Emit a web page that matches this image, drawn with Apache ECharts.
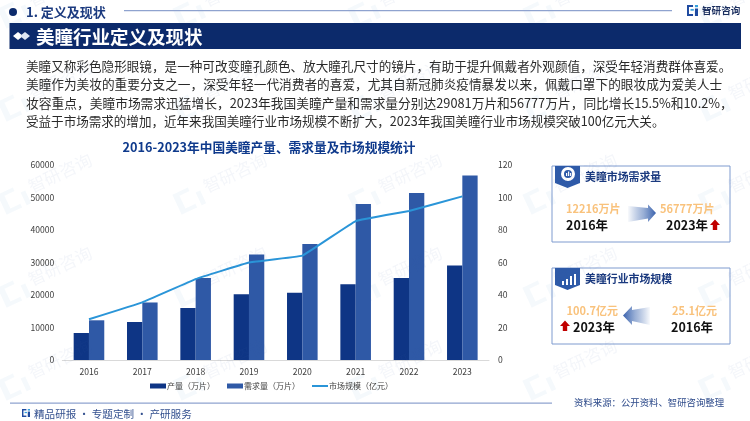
<!DOCTYPE html>
<html><head><meta charset="utf-8">
<style>html,body{margin:0;padding:0;background:#fff}#c{width:750px;height:421px}</style>
<script src="https://cdn.jsdelivr.net/npm/echarts@6/dist/echarts.min.js"></script>
</head><body><div id="c"></div>
<script>
const years=['2016','2017','2018','2019','2020','2021','2022','2023'];
const production=[8300,11700,16000,20200,20700,23300,25200,29081];
const demand=[12216,17700,25200,32500,35700,48000,51400,56777];
const marketSize=[25.1,35.5,49.8,60,64.2,85.5,91.7,100.7];
const seriesNames=['产量\uFF08万片\uFF09','需求量\uFF08万片\uFF09','市场规模\uFF08亿元\uFF09'];
const chartTitle='2016-2023年中国美瞳产量、需求量及市场规模统计';
const bodyLines=[
'美瞳又称彩色隐形眼镜\uFF0C是一种可改变瞳孔颜色、放大瞳孔尺寸的镜片\uFF0C有助于提升佩戴者外观颜值\uFF0C深受年轻消费群体喜爱。',
'美瞳作为美妆的重要分支之一\uFF0C深受年轻一代消费者的喜爱\uFF0C尤其自新冠肺炎疫情暴发以来\uFF0C佩戴口罩下的眼妆成为爱美人士',
'妆容重点\uFF0C美瞳市场需求迅猛增长\uFF0C2023年我国美瞳产量和需求量分别达29081万片和56777万片\uFF0C同比增长15.5%和10.2%\uFF0C',
'受益于市场需求的增加\uFF0C近年来我国美瞳行业市场规模不断扩大\uFF0C2023年我国美瞳行业市场规模突破100亿元大关。'];
const F='"Noto Sans CJK SC","Noto Sans",sans-serif';
const NAVY='#0c2a6b',BLUE='#2e5aa8',ORANGE='#f9c27c',LINE='#2a95d8';
const g=[];
function T(x,y,text,size,color,bold,align,z){g.push({type:'text',x,y,z:z||5,style:{text,font:(bold?'bold ':'')+size+'px '+F,fill:color,textAlign:align||'left',textVerticalAlign:'middle'}});}
function R(x,y,w,h,fill,z){g.push({type:'rect',shape:{x,y,width:w,height:h},style:{fill},z:z||4});}
function P(points,fill,z){g.push({type:'polygon',shape:{points},style:{fill},z:z||4});}
function logo(x,y,s,c1,c2){
  R(x,y,s*.55,s*.18,c1);R(x,y,s*.18,s,c1);R(x,y+s*.82,s*.55,s*.18,c1);
  R(x+s*.32,y+s*.36,s*.3,s*.16,c2);
  R(x+s*.72,y,s*.28,s*.2,c2);R(x+s*.72,y+s*.32,s*.28,s*.68,c1);
}
// header
g.push({type:'circle',shape:{cx:13,cy:12,r:4},style:{fill:NAVY},z:4});
T(26,12,'1. 定义及现状',13,'#1b3a7f',true);
R(124,10,548,1.2,'#8fa3cf');
logo(687,5,11,'#1f4aa0','#36a0dc');
T(702,10.5,'智研咨询',9.6,'#1b2f5f',true);
R(9.5,23,731.5,26,NAVY);
P([[13,36],[18,32],[23,36],[18,40]],'#ffffff');
P([[20,36],[25,32],[30,36],[25,40]],'#dfe6f3');
T(36,36.5,'美瞳行业定义及现状',18.5,'#ffffff',true);
const lineY=[66,84.5,103,121.5];
const lineSize=[12.6,12.67,12.74,12.55];
bodyLines.forEach((s,i)=>T(26,lineY[i],s,lineSize[i],'#2a2a2a',false));
// footer
R(10,402.5,542,1.2,'#8fa3cf');
logo(22,409,8,'#1f4aa0','#36a0dc');
T(34,414,'精品研报 · 专题定制 · 产研服务',10.6,'#33508f',false);
T(574,402,'资料来源\uFF1A公开资料、智研咨询整理',9.4,'#2d4a8a',false);
// cards
function card(y,title){
  g.push({type:'rect',shape:{x:552,y,width:178,height:76},style:{fill:'rgba(255,255,255,0)',stroke:'#7f9bcf',lineWidth:1},z:4});
  P([[555,y],[580,y],[580,y+17],[567.5,y+22],[555,y+17]],BLUE);
  T(585,y+11,title,10.9,'#1b3a7f',true);
}
function grad(x0,x1){return {type:'linear',x:x0,y:0,x2:x1,y2:0,global:true,colorStops:[{offset:0,color:'rgba(46,90,168,0.03)'},{offset:0.55,color:'rgba(70,110,180,0.55)'},{offset:1,color:'#3a62ad'}]};}
function up(x,y){P([[x-5,y],[x,y-5.5],[x+5,y],[x+2.2,y],[x+2.2,y+5],[x-2.2,y+5],[x-2.2,y]],'#c00000');}
card(166,'美瞳市场需求量');
g.push({type:'ring',shape:{cx:568,cy:174,r:7,r0:4},style:{fill:'#fff'},z:6});
R(566,173,1.2,3,'#fff',6);R(568,171.5,1.2,4.5,'#fff',6);R(570,173,1.2,3,'#fff',6);
T(566,209,'12216万片',11,ORANGE,true);
T(566,225.5,'2016年',12.5,'#111',true);
P([[628,206],[648,208],[648,204.5],[656,213],[648,222],[648,218.5],[628,222]],grad(628,656));
T(660,209,'56777万片',11,ORANGE,true);
T(666,225.5,'2023年',12.5,'#111',true);
up(715,225);
card(268,'美瞳行业市场规模');
R(562,281,2,4,'#fff',6);R(566,279,2,6,'#fff',6);R(570,276,2,9,'#fff',6);R(574,274,2,11,'#fff',6);
T(566.5,310.5,'100.7亿元',11,ORANGE,true);
T(573,327.5,'2023年',12.5,'#111',true);
up(565,326);
P([[650,307],[632,310],[632,306],[623,315.5],[632,325],[632,321],[650,325]],grad(650,623));
T(672,310.5,'25.1亿元',11,ORANGE,true);
T(671,327.5,'2016年',12.5,'#111',true);
// watermark
const wmLogo='rgba(60,130,200,0.05)', wmText='rgba(70,110,170,0.06)';
for(let r=-1;r<5;r++)for(let c=-1;c<6;c++){
  const x=12+c*175, y=107+r*93;
  g.push({type:'group',x,y,rotation:0.44,z:50,silent:true,children:[
   {type:'rect',shape:{x:-11,y:-11,width:6,height:22},style:{fill:wmLogo}},
   {type:'rect',shape:{x:-5,y:-11,width:11,height:4},style:{fill:wmLogo}},
   {type:'rect',shape:{x:-5,y:7,width:11,height:4},style:{fill:wmLogo}},
   {type:'rect',shape:{x:11,y:-3,width:5,height:14},style:{fill:wmLogo}}
  ]});
  g.push({type:'text',x:x+48,y:y-27,rotation:0.44,z:50,silent:true,style:{text:'智研咨询',font:'17px '+F,fill:wmText,textAlign:'center',textVerticalAlign:'middle'}});
}
const lab={color:'#404040',fontSize:8.6,fontFamily:F};
const noSep=v=>String(v);
const chart=echarts.init(document.getElementById('c'),null,{renderer:'canvas'});
chart.setOption({
  animation:false,backgroundColor:'#fff',
  title:{text:chartTitle,left:264,top:136,textAlign:'center',textStyle:{fontSize:12.7,fontWeight:'bold',color:'#0f3a8c',fontFamily:F}},
  grid:{left:62.3,right:261,top:165,bottom:61},
  legend:{left:145,top:377,itemGap:12,itemWidth:16,itemHeight:5,textStyle:{fontSize:8,color:'#404040',fontFamily:F,padding:[0,0,0,-4]},
    data:[{name:seriesNames[0],icon:'rect'},{name:seriesNames[1],icon:'rect'},
      {name:seriesNames[2],icon:'rect',itemStyle:{color:{type:'linear',x:0,y:0,x2:0,y2:1,colorStops:[{offset:0,color:'rgba(42,149,216,0)'},{offset:0.34,color:'rgba(42,149,216,0)'},{offset:0.34,color:LINE},{offset:0.66,color:LINE},{offset:0.66,color:'rgba(42,149,216,0)'},{offset:1,color:'rgba(42,149,216,0)'}]}}}]},
  xAxis:{type:'category',data:years,axisTick:{show:false},axisLine:{lineStyle:{color:'#d9d9d9'}},axisLabel:{...lab,margin:7}},
  yAxis:[
   {type:'value',min:0,max:60000,interval:10000,splitLine:{show:false},axisLine:{show:false},axisTick:{show:false},axisLabel:{...lab,margin:8,formatter:noSep}},
   {type:'value',min:0,max:120,interval:20,splitLine:{show:false},axisLine:{show:false},axisTick:{show:false},axisLabel:{...lab,margin:9,formatter:noSep}}],
  series:[
   {name:seriesNames[0],type:'bar',data:production,barWidth:15.3,barGap:'0%',itemStyle:{color:'#0e3585'},z:2},
   {name:seriesNames[1],type:'bar',data:demand,barWidth:15.3,itemStyle:{color:'#2f59a6'},z:2},
   {name:seriesNames[2],type:'line',yAxisIndex:1,data:marketSize,smooth:0.06,symbol:'none',lineStyle:{color:LINE,width:2},itemStyle:{color:LINE},z:3}
  ],
  graphic:{elements:g}
});
</script></body></html>
